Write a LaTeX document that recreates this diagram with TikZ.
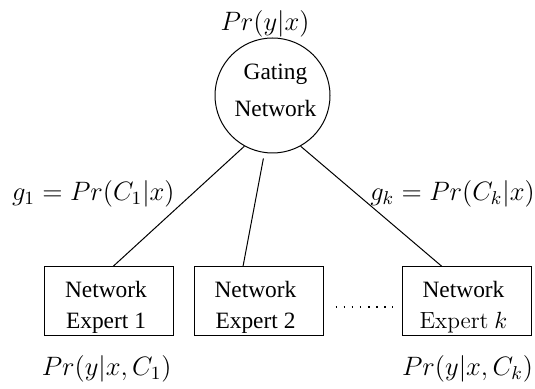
\RequirePackage{fix-cm}
\documentclass[tikz,border=0pt]{standalone}
\usepackage{fontspec}
\newfontfamily\tnr{Liberation Serif}
\usetikzlibrary{calc}
\begin{document}
\begin{tikzpicture}[x=0.5pt,y=-0.5pt,
  expbox/.style={draw, line width=0.5pt, minimum width=64.5pt, minimum height=34.5pt, inner sep=0pt},
  gatecirc/.style={draw, circle, minimum size=57.5pt, inner sep=0pt, line width=0.5pt},
  txt/.style={align=center, inner sep=0pt, font=\tnr\fontsize{11.7}{15.5}\selectfont},
  ctxt/.style={align=center, inner sep=0pt, font=\tnr\fontsize{11.7}{18.3}\selectfont},
  mlabel/.style={inner sep=0pt, font=\fontsize{13.3}{16}\selectfont},
  conn/.style={line width=0.5pt},
  dotline/.style={line width=0.8pt, line cap=butt, dash pattern=on 0.8pt off 3.25pt}]
\useasboundingbox (0,0) rectangle (535,389);

\node[gatecirc] (gate) at (272.5,95.5) {};
\node[ctxt] (gatetext) at (275.5,90.3) {Gating\\Network};
\node[mlabel] (py) at (265,24) {$Pr(y|x)$};

\node[expbox] (e1) at (109,301.5) {};
\node[expbox] (e2) at (258.5,301.5) {};
\node[expbox] (e3) at (466.5,301.5) {};
\node[txt] (e1t) at (106,307) {Network\\Expert 1};
\node[txt] (e2t) at (255.5,307) {Network\\Expert 2};
\node[txt] (e3t) at (463.5,307) {{\tnr Network}\\{\rmfamily Expert} $k$};

\coordinate (t1) at ($(e1.north)+(4,0)$);
\coordinate (t2) at ($(e2.north)+(-15.5,0)$);
\coordinate (t3) at ($(e3.north)+(-24.5,0)$);
\draw[conn] (gate.241.5) -- (t1);
\draw[conn, shorten <=2.8pt] (gate.262) -- (t2);
\draw[conn] (gate.299.3) -- (t3);

\coordinate (d1) at (335.5,307);
\coordinate (d2) at (393,307);
\draw[dotline] (d1) -- (d2);

\node[mlabel] (g1) at (93.3,194) {$g_1 = Pr(C_1|x)$};
\node[mlabel] (gk) at (452.5,194) {$g_k = Pr(C_k|x)$};
\node[mlabel] (o1) at (106.7,368.5) {$Pr(y|x,C_1)$};
\node[mlabel] (ok) at (467.5,369) {$Pr(y|x,C_k)$};
\end{tikzpicture}
\end{document}
